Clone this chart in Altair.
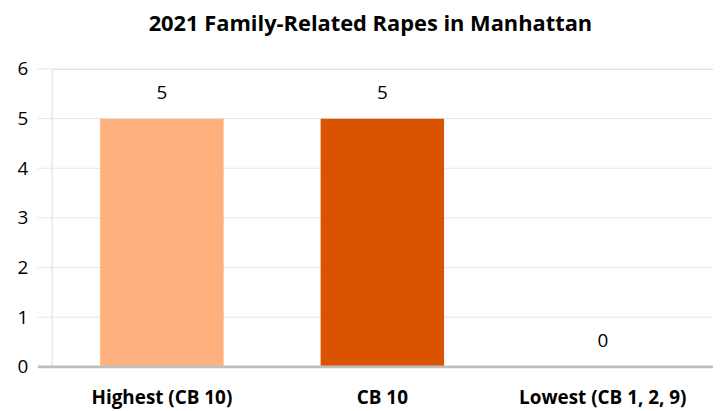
import altair as alt
import pandas as pd

categories = ["Highest (CB 10)", "CB 10", "Lowest (CB 1, 2, 9)"]
values = [5, 5, 0]
bar_colors = ["#FFB07F", "#D95300", "#A5A5A5"]
y_ticks = [0, 1, 2, 3, 4, 5, 6]
title_text = "2021 Family-Related Rapes in Manhattan"

FONT = "Open Sans"

df = pd.DataFrame({"category": categories, "value": values})
grid_df = pd.DataFrame({"tick": y_ticks[1:]})
base_df = pd.DataFrame({"tick": [0]})

x_enc = alt.X(
    "category:N",
    sort=categories,
    scale=alt.Scale(paddingInner=0.44, paddingOuter=0.22),
    axis=alt.Axis(
        title=None, labelAngle=0, domain=False, ticks=False,
        labelFont=FONT, labelFontSize=19, labelFontWeight="bold",
        labelColor="#000000", labelPadding=22,
    ),
)
y_scale = alt.Scale(domain=[0, 6], nice=False)

grid = alt.Chart(grid_df).mark_rule(color="#E6E6E6", strokeWidth=1).encode(
    y=alt.Y("tick:Q", scale=y_scale,
            axis=alt.Axis(title=None, values=y_ticks, grid=False, domain=False,
                          ticks=False, labelFont=FONT, labelFontSize=19,
                          labelColor="#000000", labelPadding=24, format="d")),
    x=alt.value(-14), x2=alt.value(668),
)

bars = alt.Chart(df).mark_bar().encode(
    x=x_enc,
    y=alt.Y("value:Q", scale=y_scale),
    color=alt.Color("category:N", scale=alt.Scale(domain=categories, range=bar_colors), legend=None),
)

labels = alt.Chart(df).mark_text(
    font=FONT, fontSize=19, color="#000000", baseline="bottom", dy=-16
).encode(
    x=alt.X("category:N", sort=categories),
    y=alt.Y("value:Q", scale=y_scale),
    text=alt.Text("value:Q", format="d"),
)

baseline = alt.Chart(base_df).mark_rule(color="#BFBFBF", strokeWidth=3).encode(
    y=alt.Y("tick:Q", scale=y_scale),
    x=alt.value(-14), x2=alt.value(668),
)

chart = alt.layer(grid, bars, baseline, labels).properties(
    width=666, height=300,
    title=alt.Title(title_text, font=FONT, fontSize=22, fontWeight="bold",
                    color="#000000", anchor="middle", dx=-12, offset=24),
    autosize=alt.AutoSizeParams(type="none"),
    padding={"left": 44, "top": 60, "right": 0, "bottom": 43},
).configure_view(stroke=None).configure(background="#FFFFFF")

chart.save("out.html", embed_options={"renderer": "svg", "actions": False})
